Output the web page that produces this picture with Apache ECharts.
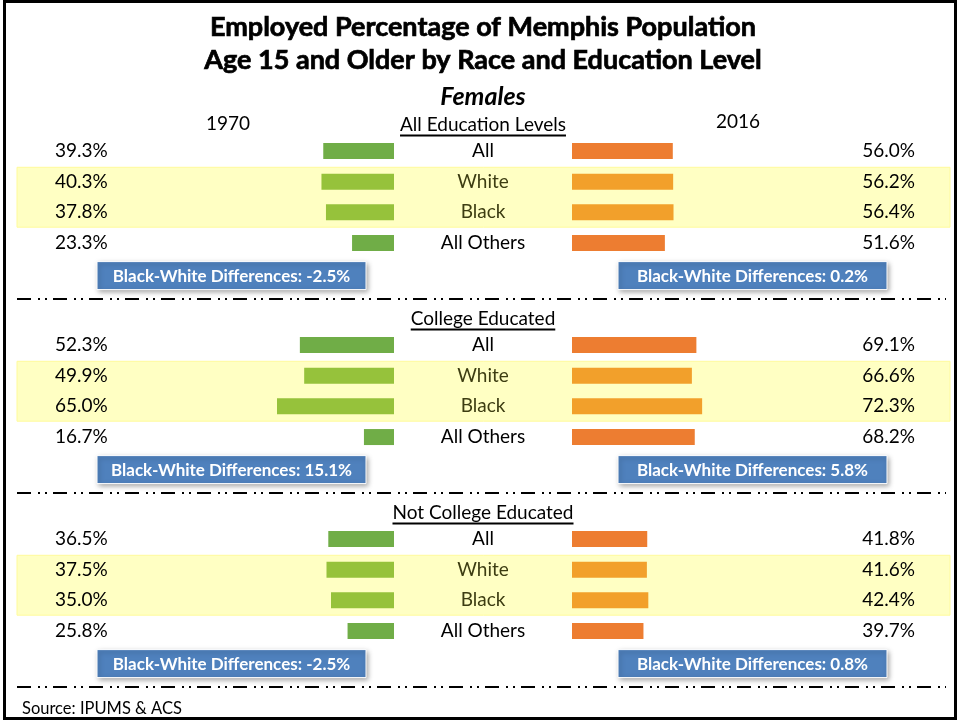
<!DOCTYPE html>
<html><head><meta charset="utf-8">
<script src="https://cdn.jsdelivr.net/npm/echarts@6/dist/echarts.min.js"></script>
<style>html,body{margin:0;padding:0;background:#fff}#c{width:960px;height:721px}</style>
</head><body><div id="c"></div>
<script>
// ---------- data ----------
const titleLines = ['Employed Percentage of Memphis Population', 'Age 15 and Older by Race and Education Level'];
const subTitle = 'Females';
const yearLabels = ['1970', '2016'];
const rows = ['All', 'White', 'Black', 'All Others'];
const sections = ['All Education Levels', 'College Educated', 'Not College Educated'];
const v1970_all = [39.3, 40.3, 37.8, 23.3];
const v1970_college = [52.3, 49.9, 65.0, 16.7];
const v1970_notCollege = [36.5, 37.5, 35.0, 25.8];
const v2016_all = [56.0, 56.2, 56.4, 51.6];
const v2016_college = [69.1, 66.6, 72.3, 68.2];
const v2016_notCollege = [41.8, 41.6, 42.4, 39.7];
const diff1970 = ['-2.5', '15.1', '-2.5'];
const diff2016 = ['0.2', '5.8', '0.8'];
const sourceText = 'Source: IPUMS & ACS';

// ---------- style / layout ----------
const v1970 = [v1970_all, v1970_college, v1970_notCollege];
const v2016 = [v2016_all, v2016_college, v2016_notCollege];
const FONT = 'Lato';
const G = '#70ad47', G_LIGHT = '#96c23b', O = '#ed7d31', O_LIGHT = '#f2a02b';
const HL_TEXT = '#3d3d12';
const ROW_H = 30.7, SEC_TOP = 135.6, SEC_STEP = 194;
const LX = 214, RX = 572, AXW = 180;
const CX = 483;
const isHL = i => i === 1 || i === 2;
const LBL_PAD = [4, 0, 0, 0];

const cv = document.createElement('canvas').getContext('2d');
function tw(text, font) { cv.font = font; return cv.measureText(text).width; }

const grid = [], xAxis = [], yAxis = [], series = [], graphic = [];
graphic.push({type: 'rect', z: 100, shape: {x: 4.5, y: 1.5, width: 951, height: 717},
  style: {fill: 'none', stroke: '#000', lineWidth: 3}});

for (let s = 0; s < 3; s++) {
  const top = SEC_TOP + s * SEC_STEP;
  grid.push({left: LX, top: top, width: AXW, height: ROW_H * 4});
  grid.push({left: RX, top: top, width: AXW, height: ROW_H * 4});
  xAxis.push({gridIndex: 2 * s, type: 'value', min: 0, max: 100, inverse: true, show: false});
  xAxis.push({gridIndex: 2 * s + 1, type: 'value', min: 0, max: 100, show: false});
  const baseY = {type: 'category', data: rows, inverse: true, axisLine: {show: false, onZero: false},
    axisTick: {show: false}, splitLine: {show: false}};
  yAxis.push(Object.assign({}, baseY, {gridIndex: 2 * s, position: 'left',
    axisLabel: {margin: 159, align: 'left', fontSize: 19, fontFamily: FONT, color: '#000', padding: LBL_PAD,
      formatter: (v, i) => v1970[s][i].toFixed(1) + '%'}}));
  yAxis.push(Object.assign({}, baseY, {gridIndex: 2 * s, position: 'right',
    axisLabel: {margin: 89, align: 'center', fontSize: 19, fontFamily: FONT, padding: LBL_PAD,
      color: (v, i) => isHL(rows.indexOf(v)) ? HL_TEXT : '#000'}}));
  yAxis.push(Object.assign({}, baseY, {gridIndex: 2 * s + 1, position: 'right',
    axisLabel: {margin: 163, align: 'right', fontSize: 19, fontFamily: FONT, color: '#000', padding: LBL_PAD,
      formatter: (v, i) => v2016[s][i].toFixed(1) + '%'}}));
  series.push({type: 'bar', xAxisIndex: 2 * s, yAxisIndex: 3 * s, barWidth: 16, silent: true,
    data: v1970[s].map((v, i) => ({value: v, itemStyle: {color: isHL(i) ? G_LIGHT : G}}))});
  series.push({type: 'bar', xAxisIndex: 2 * s + 1, yAxisIndex: 3 * s + 2, barWidth: 16, silent: true,
    data: v2016[s].map((v, i) => ({value: v, itemStyle: {color: isHL(i) ? O_LIGHT : O}}))});

  // highlight band
  graphic.push({type: 'rect', z: -1, shape: {x: 17, y: top + ROW_H + 1, width: 933, height: ROW_H * 2 - 1.5},
    style: {fill: '#ffffc3', stroke: '#fffb9c', lineWidth: 1}});
  // header + underline
  const hFont = '19px ' + FONT;
  const hy = top - 11;
  const w = tw(sections[s], hFont);
  graphic.push({type: 'text', x: CX, y: hy, style: {text: sections[s], font: hFont, fill: '#000',
    textAlign: 'center', textVerticalAlign: 'middle'}});
  graphic.push({type: 'line', shape: {x1: CX - w / 2, y1: hy + 11, x2: CX + w / 2, y2: hy + 11},
    style: {stroke: '#000', lineWidth: 2}});
  // difference boxes
  const by = top + 126;
  [[97, diff1970[s]], [618, diff2016[s]]].forEach(([bx, d]) => {
    graphic.push({type: 'rect', shape: {x: bx, y: by, width: 269, height: 28},
      style: {fill: '#4f81bd', stroke: '#ffffff', lineWidth: 1, shadowBlur: 5, shadowOffsetX: 1.5, shadowOffsetY: 2,
        shadowColor: 'rgba(0,0,0,0.35)'}});
    graphic.push({type: 'text', x: bx + 134.5, y: by + 15, style: {text: 'Black-White Differences: ' + d + '%',
      font: 'bold 17px ' + FONT, fill: '#fff', textAlign: 'center', textVerticalAlign: 'middle'}});
  });
  // separator
  graphic.push({type: 'line', shape: {x1: 17, y1: top + 163.5, x2: 946, y2: top + 163.5},
    style: {stroke: '#000', lineWidth: 2, lineDash: [14, 7, 2, 5, 2, 6]}});
}

// titles
const tStyle = {font: 'bold 27px ' + FONT, fill: '#000', stroke: '#000', lineWidth: 0.7, textAlign: 'center', textVerticalAlign: 'middle'};
graphic.push({type: 'text', x: CX, y: 27, style: Object.assign({text: titleLines[0]}, tStyle)});
graphic.push({type: 'text', x: CX, y: 60, style: Object.assign({text: titleLines[1]}, tStyle)});
graphic.push({type: 'text', x: CX, y: 97, style: {text: subTitle, font: 'italic bold 25px ' + FONT, fill: '#000', textAlign: 'center', textVerticalAlign: 'middle'}});
graphic.push({type: 'text', x: 228, y: 124, style: {text: yearLabels[0], font: '19px ' + FONT, fill: '#000', textAlign: 'center', textVerticalAlign: 'middle'}});
graphic.push({type: 'text', x: 738, y: 122, style: {text: yearLabels[1], font: '19px ' + FONT, fill: '#000', textAlign: 'center', textVerticalAlign: 'middle'}});
graphic.push({type: 'text', x: 22, y: 709, style: {text: sourceText, font: '16.5px ' + FONT, fill: '#000', textAlign: 'left', textVerticalAlign: 'middle'}});

const chart = echarts.init(document.getElementById('c'), null, {renderer: 'canvas'});
chart.setOption({animation: false, backgroundColor: '#fff', grid, xAxis, yAxis, series, graphic});
</script></body></html>
